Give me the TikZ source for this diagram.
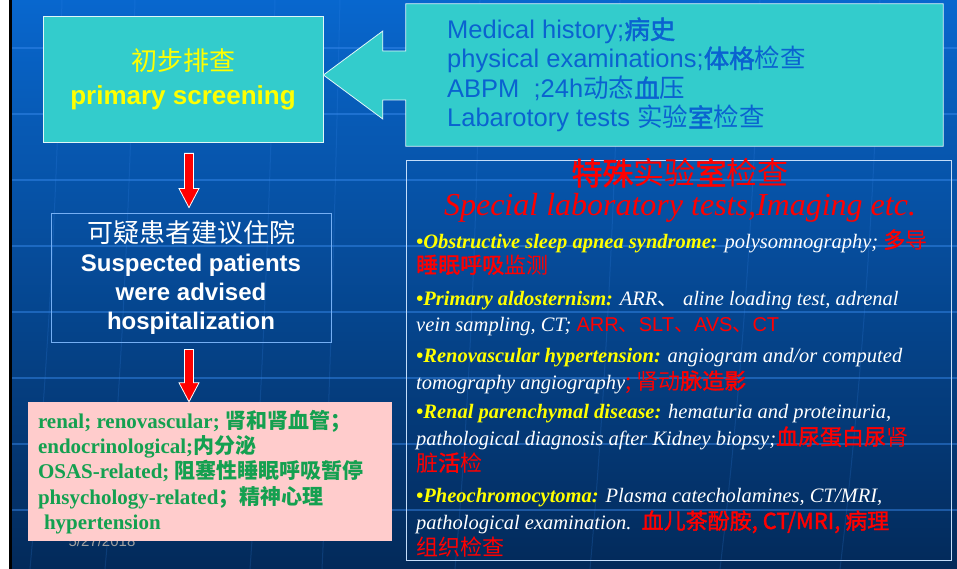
\documentclass[tikz,border=0pt]{standalone}
\usepackage{fontspec}
\setmainfont{Liberation Serif}
\newfontfamily\arial{Liberation Sans}
\newfontfamily\cjk{Noto Sans CJK SC}
\newfontfamily\cjkfb{Noto Sans CJK SC}[FakeBold=1.6]
\usetikzlibrary{calc}
\definecolor{teal1}{HTML}{33CCCC}
\definecolor{bgtop}{HTML}{0867CE}
\definecolor{bgmid}{HTML}{054A9A}
\definecolor{bgbot}{HTML}{032A5A}
\definecolor{calltext}{HTML}{0A62D0}
\definecolor{pinkbox}{HTML}{FFCCCC}
\definecolor{grn}{HTML}{14A050}
\definecolor{ylw}{HTML}{FFFF00}
\definecolor{rd}{HTML}{FF0000}
\definecolor{gridln}{HTML}{3A8CF0}
\newcommand\cjr[1]{{\cjk\mdseries\upshape #1}}
\newcommand\cjb[1]{{\cjkfb\mdseries\upshape #1}}
\newcommand\cjB[1]{{\cjk\bfseries\upshape #1}}
\newcommand\lab[1]{{\color{ylw}\bfseries #1}}
\newcommand\rcjr[1]{{\color{rd}\cjk\mdseries\upshape\fontsize{22}{24}\selectfont #1}}
\newcommand\rcjb[1]{{\color{rd}\cjkfb\mdseries\upshape\fontsize{22}{24}\selectfont #1}}
\tikzset{
  bgline/.style={draw=gridln, opacity=0.45, line width=1.2pt},
  bgcurve/.style={draw=gridln, opacity=0.18, line width=1pt},
  tealbox/.style={fill=teal1, draw=white!85!teal1, line width=0.8pt},
  redarrow/.style={fill=rd, draw=white, line width=0.8pt},
  hline/.style={anchor=west, inner sep=0, text=calltext, font=\arial\fontsize{25.5}{29}\selectfont, text height=18pt, text depth=6pt},
  bline/.style={anchor=west, inner sep=0, text=white, font=\fontsize{20.5}{24}\selectfont\itshape, text height=15pt, text depth=5pt},
}
\newcommand\blockarrow[2]{\draw[redarrow] ($(#1)+(-4.5,0)$) -- ($(#2)+(-4.5,-19)$) -- ($(#2)+(-10,-19)$) -- (#2) -- ($(#2)+(10,-19)$) -- ($(#2)+(4.5,-19)$) -- ($(#1)+(4.5,0)$) -- cycle;}
\begin{document}
\begin{tikzpicture}[x=1pt, y=-1pt]
\useasboundingbox (0,0) rectangle (957,569);
% background
\shade[top color=bgtop, middle color=bgmid, bottom color=bgbot] (0,0) rectangle (957,569);
\foreach \yy in {48,114,...,510} \draw[bgline] (12,\yy) -- (957,\yy);
\draw[bgcurve] (62,0) .. controls (55,250) and (45,400) .. (30,569);
\draw[bgcurve] (135,0) .. controls (128,250) and (120,400) .. (105,569);
\draw[bgcurve] (275,0) .. controls (270,200) and (262,400) .. (250,569);
\draw[bgcurve] (340,0) .. controls (335,200) and (330,400) .. (322,569);
\draw[bgcurve] (480,0) .. controls (478,200) and (470,400) .. (455,569);
\draw[bgcurve] (620,0) .. controls (615,200) and (605,400) .. (590,569);
\draw[bgcurve] (760,0) .. controls (755,200) and (740,400) .. (720,569);
\draw[bgcurve] (880,0) .. controls (875,200) and (860,400) .. (840,569);
\fill[white] (0,0) rectangle (9,569);
\fill[black] (9,0) rectangle (12,569);

% primary screening box
\node[tealbox, minimum width=280pt, minimum height=126pt, inner sep=0, align=center, text=ylw, font=\fontsize{26}{34}\selectfont] (prim) at (183,79) {\cjr{初步排查}\\\arial\bfseries primary screening};

% callout
\node[minimum width=537pt, minimum height=142pt, inner sep=0] (hist) at (674.5,75) {};
\draw[tealbox] (hist.north west) -- (hist.north east) -- (hist.south east) -- (hist.south west)
  -- ($(hist.west)+(0,25)$) -- ($(hist.west)+(-23,25)$) -- ($(hist.west)+(-23,44)$)
  -- (prim.east |- hist.west)
  -- ($(hist.west)+(-23,-44)$) -- ($(hist.west)+(-23,-24)$) -- ($(hist.west)+(0,-24)$) -- cycle;
\node[hline] (h1) at (447,33) {Medical history;\cjb{病史}};
\node[hline] (h2) at (447,62) {physical examinations;\cjb{体格}\cjr{检查}};
\node[hline] (h3) at (447,92) {ABPM\ \ ;24h\cjr{动态}\cjb{血}\cjr{压}};
\node[hline] (h4) at (447,121) {Labarotory tests \cjr{实验}\cjb{室}\cjr{检查}};

% middle box
\node[draw=gridln!70!white, line width=0.8pt, minimum width=280pt, minimum height=129pt, inner sep=0, align=center, text=white, font=\arial\bfseries\fontsize{24}{29}\selectfont] (mid) at (191,277.5) {{\cjk\mdseries\fontsize{26}{29}\selectfont 可疑患者建议住院}\\Suspected patients\\were advised\\hospitalization};

% red arrows
\coordinate (a1s) at ($(mid.north |- prim.south)+(-2,11)$);
\coordinate (a1e) at ($(mid.north)+(-2,-5)$);
\blockarrow{a1s}{a1e}

% date (partly hidden)
\node[text=gray!75, font=\arial\fontsize{15}{15}\selectfont] (date) at (102,541) {5/27/2018};

% pink box
\node[fill=pinkbox, minimum width=364pt, minimum height=139pt, inner sep=0] (pink) at (210,471.5) {};
\node[anchor=west, align=left, inner sep=0, text=grn, font=\bfseries\fontsize{21}{25.2}\selectfont] (ptext) at ($(pink.west)+(10,0.5)$) {renal; renovascular; \cjB{肾和肾血管；}\\endocrinological;\cjB{内分泌}\\OSAS-related; \cjB{阻塞性睡眠呼吸暂停}\\phsychology-related\cjB{；精神心理}\\\hspace*{6pt}hypertension};

\coordinate (a2s) at ($(mid.south)+(-2,7)$);
\coordinate (a2e) at ($(pink.north -| mid.south)+(-2,0)$);
\blockarrow{a2s}{a2e}

% special tests box
\node[draw=white!70!gridln, line width=0.8pt, minimum width=545pt, minimum height=400pt, inner sep=0] (spec) at (678.5,360.5) {};
\node[text=rd, inner sep=0, font=\fontsize{31}{31}\selectfont] (t1) at (680,173) {\cjb{特殊}\cjr{实验}\cjb{室}\cjr{检查}};
\node[text=rd, inner sep=0, font=\fontsize{32}{32}\selectfont\itshape] (t2) at (680,208) {Special laboratory tests,Imaging etc.};
\node[bline] (r1) at (416,243) {\lab{•Obstructive sleep apnea syndrome:} polysomnography; \rcjb{多}\rcjr{导}};
\node[bline] (r2) at (416,268) {\rcjb{睡眠呼吸}\rcjr{监测}};
\node[bline] (r3) at (416,300) {\lab{•Primary aldosternism:} ARR\cjr{、} aline loading test, adrenal};
\node[bline] (r4) at (416,326) {vein sampling, CT; {\color{rd}\upshape\arial\fontsize{20}{24}\selectfont ARR\cjr{、}SLT\cjr{、}AVS\cjr{、}CT}};
\node[bline] (r5) at (416,357) {\lab{•Renovascular hypertension:} angiogram and/or computed};
\node[bline] (r6) at (416,384) {tomography angiography\rcjr{; 肾动}\rcjb{脉造影}};
\node[bline] (r7) at (416,413) {\lab{•Renal parenchymal disease:} hematuria and proteinuria,};
\node[bline] (r8) at (416,440) {pathological diagnosis after Kidney biopsy;\rcjb{血尿蛋白尿}\rcjr{肾}};
\node[bline] (r9) at (416,466) {\rcjr{脏}\rcjb{活}\rcjr{检}};
\node[bline] (r10) at (416,497) {\lab{•Pheochromocytoma:} Plasma catecholamines, CT/MRI,};
\node[bline] (r11) at (416,524) {pathological examination.\ \ \rcjb{血儿茶酚胺, CT/MRI, 病理}};
\node[bline] (r12) at (416,550) {\rcjr{组织检查}};
\end{tikzpicture}
\end{document}
